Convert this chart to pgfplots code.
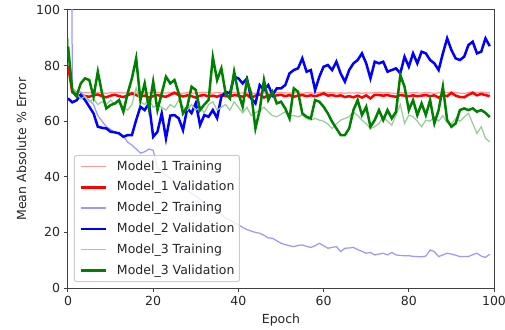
\documentclass[border=0pt]{standalone}
\usepackage{pgfplots}
\pgfplotsset{compat=1.18}
\usepackage{pgfplotstable}
\usepackage{fontspec}
\setmainfont{DejaVu Sans}
\definecolor{mplgreen}{RGB}{0,128,0}

\pgfplotstableread{
e m1t m1v m2t m2v m3t m3v
0 85 80 600 68.2 90 86.8
1 72 70.5 71 66.8 72 71
2 70.6 69 70 67.5 70 69
3 70.4 69.4 70.5 69.4 68 73.6
4 70.2 69 68.8 67.6 69 75.4
5 70.3 68.8 67.5 65.2 67 74.8
6 70.1 69.3 66 62.8 68 68.8
7 70.4 69.6 62 58 66 77.8
8 70.2 69 60 57.6 67 70
9 70.0 68.6 58 57.4 66 64.6
10 70.3 69.2 57 56.2 67.6 65.8
11 70.2 69.5 56 56 66 66.4
12 70.4 69 55.5 55.6 67 67.6
13 70.1 68.7 54.5 54.4 65 63.4
14 70.3 69.3 52.5 55 64 70
15 70.5 70 51.4 55 66 75.4
16 70.2 69.4 50 60.4 72 82.6
17 70.0 68.8 48.5 65.2 67 67.6
18 70.3 69.2 49 64 66 73.6
19 70.1 68.5 50 66.4 68 64.6
20 70.2 69 49.5 54.4 65 74.2
21 70.4 69.4 43 56.2 66 64
22 70.2 69 42 62.8 65 70
23 70.1 68.8 40.5 53.8 64 76
24 70.3 69.5 39.5 62 66 73.6
25 70.5 70.2 38 62.2 65 74.8
26 70.2 69.4 37 61 67.6 70
27 70.0 68.9 36 56.8 65 62.8
28 70.3 69.3 35 64.7 64 65.2
29 70.2 69 34 62.9 66 72.4
30 70.1 68.5 33 66.5 64 71.2
31 70.3 69.2 32 58.6 65 64
32 70.4 69.4 30.5 62.2 63 66
33 70.2 68.9 29.5 61.6 66 67.6
34 70.1 69.2 28.5 64 67 83
35 70.3 68.8 27.5 61.1 64 74.8
36 70.2 69.4 26.5 68.8 65 79
37 70.0 69 25 70.6 66 70
38 70.3 68.9 24.5 70 64 68.2
39 70.4 69.4 23.5 76 67 77.8
40 70.2 69.2 22.7 75.4 65 70
41 70.1 68.8 21.8 73.6 63 65.2
42 70.3 69.5 21 75.4 65 74.8
43 70.2 68.3 20.5 68.2 62 70
44 70.0 69.2 20 66.4 63 57.4
45 70.3 69.6 19.7 73 64 64
46 70.2 68.5 19 71.2 65 74.8
47 70.1 69.4 18 73 63.4 67.6
48 70.3 69 17.9 69.4 62 70.6
49 70.2 69.3 17 71.8 61.6 66.4
50 70.4 69.5 16.1 71.8 62.5 67
51 70.2 69 15.6 73 63.4 64.6
52 70.1 69.4 15.2 77.2 62 61
53 70.3 68.8 14.9 78.4 62 71.8
54 70.2 69.2 15.3 79 61.6 70.6
55 70.0 69.4 15.5 82.6 62.2 62.8
56 70.3 69 15 77.8 61 61.6
57 70.2 69.3 14.6 78.4 60.4 61
58 70.1 69 15.2 71.2 61 67.6
59 70.3 69.4 16.1 76 60.4 67
60 70.5 70 15.2 79.6 60 65.2
61 70.2 69.2 14.3 80.2 59 62.8
62 70.3 69.4 14.6 78.4 57.4 59.8
63 70.1 69 14.9 81.4 59 57.4
64 70.2 69.3 13.1 77.2 60.4 55
65 70.0 68.7 14.3 74.2 61 55
66 70.2 69 14.4 78.4 61.6 57.4
67 70.1 68.6 14.6 80.8 63.4 64
68 70.3 69.2 13.8 82 62 67.6
69 70.0 68.5 13.2 84.4 60.4 62.2
70 70.2 69.3 12.5 80.8 59 65.2
71 70.1 68.2 12.8 75.4 57.4 58
72 70.3 69.5 11.9 81.4 58 60.4
73 70.4 69.4 12.2 80.8 59.2 64
74 70.2 69.2 12.5 81.4 61.6 60.4
75 70.3 69.4 11.9 77.8 60 64
76 70.1 69 12.8 78.4 58.6 61
77 70.0 68.8 11.9 79 62.2 63.4
78 70.3 69.4 11.7 77.2 66 76.6
79 70.2 69.2 11.6 83.2 59.2 72.4
80 70.1 69 11.6 79.6 62.2 64
81 70.3 69.3 11.4 84.4 61.6 67.6
82 70.2 69 11.3 80.8 60 62.2
83 70.1 69.2 11.2 85 58 66.4
84 70.3 69.4 11.5 84.4 60.4 62.2
85 70.2 69 13.7 82 60 67.6
86 70.0 69.3 13.1 80.8 61.6 59.2
87 70.2 68.5 11.3 78.4 60 64
88 70.4 69.4 11.9 84.4 62 72.4
89 70.2 69 12.5 89.8 59.5 60.4
90 70.5 70.2 12.2 85.6 59 58
91 70.3 69.2 11.8 82.6 61 59.2
92 70.1 68.7 11.3 82 60 64
93 70.0 68.6 11.3 83.2 61.5 64.6
94 70.3 69.5 11.3 87.4 62.8 64
95 70.6 70.2 12 88.6 59.2 64.6
96 70.3 69.3 12.5 84.4 55.6 63.4
97 70.5 69.8 11.5 85 58 64
98 70.3 69.4 11 89.8 53.8 63
99 70.2 69 12.2 87 52.6 61.5
}\data

\begin{document}
\begin{tikzpicture}
\begin{axis}[
  name=ax,
  scale only axis,
  width=426pt, height=278pt,
  xmin=0, xmax=100, ymin=0, ymax=100,
  xtick={0,20,...,100}, ytick={0,20,...,100},
  tick align=outside, tick pos=left,
  major tick length=4.4pt,
  axis line style={black!75, line width=1pt},
  tick style={black!75, line width=1pt},
  /pgf/number format/assume math mode=true,
  ticklabel style={font=\fontsize{12.5}{15}\selectfont, text=black!85},
  xticklabel style={yshift=-0.5pt},
  label style={font=\fontsize{12.5}{15}\selectfont, text=black!85},
  xlabel={Epoch},
  xlabel style={yshift=-1.5pt},
  ylabel={Mean Absolute \% Error},
  ylabel style={yshift=3pt},
  legend cell align=left,
  legend image code/.code={\draw (0pt,0pt) -- (25pt,0pt);},
  legend style={
    at={(0,0)}, anchor=south west, xshift=6pt, yshift=6pt,
    draw=black!20, line width=1pt, fill=white, fill opacity=0.8,
    draw opacity=1, text opacity=1, rounded corners=2pt,
    inner xsep=5pt, inner ysep=5pt,
    font=\fontsize{12.5}{15}\selectfont,
    nodes={inner sep=0pt, text height=9.5pt, text depth=2.5pt, text=black!85},
    row sep=8.8pt, column sep=10pt,
  },
]
\addplot[red!40, line width=1.25pt] table[x=e, y=m1t] {\data};
\addlegendentry{Model\_1 Training}
\addplot[red, line width=2.5pt] table[x=e, y=m1v] {\data};
\addlegendentry{Model\_1 Validation}
\addplot[blue!40, line width=1.25pt] table[x=e, y=m2t] {\data};
\addlegendentry{Model\_2 Training}
\addplot[blue, line width=2.5pt] table[x=e, y=m2v] {\data};
\addlegendentry{Model\_2 Validation}
\addplot[mplgreen!40, line width=1.25pt] table[x=e, y=m3t] {\data};
\addlegendentry{Model\_3 Training}
\addplot[mplgreen, line width=2.5pt] table[x=e, y=m3v] {\data};
\addlegendentry{Model\_3 Validation}
\end{axis}
\pgfresetboundingbox
\path[use as bounding box] ([xshift=-68pt,yshift=-41pt]ax.south west) rectangle ([xshift=11pt,yshift=10pt]ax.north east);
\end{tikzpicture}
\end{document}
